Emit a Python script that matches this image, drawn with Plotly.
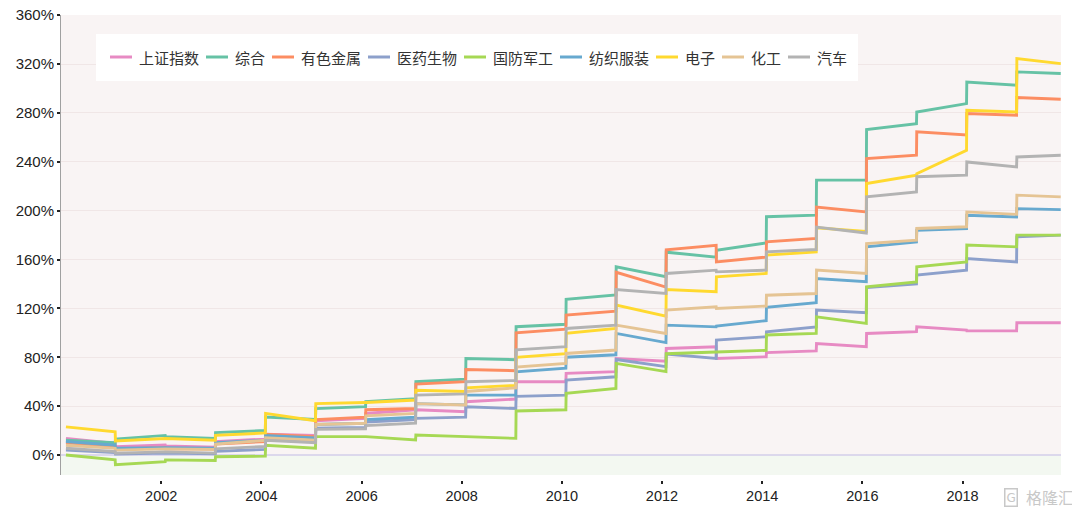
import datetime as dt
import plotly.graph_objects as go

years = list(range(2000, 2020))
series_names = ["上证指数", "综合", "有色金属", "医药生物", "国防军工", "纺织服装", "电子", "化工", "汽车"]
series_colors = ["#e78ac3", "#66c2a5", "#fc8d62", "#8da0cb", "#a6d854", "#67a9cf", "#ffd92f", "#e5c494", "#b3b3b3"]

# value at the start of each year (after the jump) and at its end (before the next jump), in %
shangzheng_start = [13.6, 6.8, 7.4, 11, 17, 28, 34, 37, 43.6, 60, 66.8, 79, 87.2, 79, 83.8, 91.3, 99.5, 105, 101.6, 108.2]
shangzheng_end   = [9.5, 8.2, 6.3, 13, 16, 30, 36.8, 35.4, 45.8, 60, 68.2, 76.8, 88.6, 80.4, 85.2, 88.6, 100.9, 102.2, 101.6, 108.2]
zonghe_start = [12, 13, 15, 18.3, 31, 38, 43.6, 60, 79, 105, 127.4, 154, 166, 167.6, 195, 225, 266.4, 280.8, 305.4, 313.6]
zonghe_end   = [10, 16, 13.6, 20, 29, 39.5, 46, 62, 78, 107, 131, 146, 162, 173.6, 196.3, 225, 271.3, 287.7, 302.7, 312.3]
youse_start = [10, 5, 5, 9, 17, 29, 37, 58, 70, 100, 114.5, 149.6, 168, 158, 174.5, 203, 242.7, 264.5, 279.5, 292.6]
youse_end   = [7, 6, 5, 11, 15, 31, 38, 60, 69, 103, 117.8, 137.4, 171.6, 162, 177.3, 199, 245.4, 262, 278.1, 291.2]
yiyao_start = [4, 0.8, 1.5, 3, 13, 22, 27, 30, 39.5, 48, 61.3, 78.2, 82.6, 94, 100.9, 118.6, 137, 147.2, 160.8, 178.6]
yiyao_end   = [2, 2, 1, 4.5, 11, 22.5, 29, 31, 38, 49, 64, 72.3, 79, 96.8, 104.9, 116.5, 140, 151.3, 158.1, 180]
guofang_start = [0, -8, -4, -1.5, 8, 15, 15, 16.4, 15, 36, 50.4, 75, 82.9, 84.3, 98.2, 113.1, 137.6, 154, 171.8, 180]
guofang_end   = [-4, -5.5, -4.5, -1, 5.5, 15, 12.3, 15, 13.6, 37, 54.5, 68.2, 84.3, 85.7, 99.5, 107.7, 141.7, 158.1, 170.4, 180]
fangzhi_start = [11, 5.5, 6, 10, 16, 25, 29, 42, 49, 68, 80, 99.5, 106.3, 105.6, 120.8, 144.5, 170.4, 184, 196.3, 201.7]
fangzhi_end   = [8, 6.5, 5.5, 12, 14, 26, 31, 41, 49, 71, 82, 92, 104.9, 110, 124.6, 141.8, 174.5, 185.4, 194.9, 200.9]
dianzi_start = [23, 11.5, 13.5, 16, 34, 42, 43, 53, 55, 80, 99.5, 122.7, 135.5, 145.9, 163.6, 186, 222.2, 230.2, 282.2, 324.5]
dianzi_end   = [19, 13, 12, 18, 28, 43, 45, 52, 57, 83, 103.6, 113.7, 133.6, 148.6, 166.3, 183, 229, 249.4, 280.8, 320.4]
huagong_start = [8, 4, 5, 9, 14, 25, 32, 42, 52, 72, 83.1, 106.3, 118.6, 120, 130.8, 151.3, 173.1, 185.4, 199, 212.7]
huagong_end   = [5.5, 5, 4.5, 12, 12, 26, 34, 41, 55, 75, 85.9, 99.5, 121.4, 121.9, 132.2, 148.6, 175.9, 186.8, 197, 211.3]
qiche_start = [5.5, 1.4, 2.5, 5, 12, 21, 24, 49, 60, 86, 103.6, 135.5, 148.6, 149.9, 166.3, 186.5, 211.3, 227.8, 239.9, 244]
qiche_end   = [2.7, 2.5, 1.5, 7, 10, 21.5, 26, 50, 61, 88.6, 106.3, 132.2, 151.3, 151.3, 168.2, 181.7, 215.4, 229.1, 235.8, 245.4]

x_tick_labels = ["2002", "2004", "2006", "2008", "2010", "2012", "2014", "2016", "2018"]
y_tick_values = [0, 40, 80, 120, 160, 200, 240, 280, 320, 360]

starts = [shangzheng_start, zonghe_start, youse_start, yiyao_start, guofang_start,
          fangzhi_start, dianzi_start, huagong_start, qiche_start]
ends = [shangzheng_end, zonghe_end, youse_end, yiyao_end, guofang_end,
        fangzhi_end, dianzi_end, huagong_end, qiche_end]


def seg_dates(y):
    s = dt.date(y, 2, 1) if y > years[0] else dt.date(y, 2, 6)
    e = dt.date(y + 1, 1, 30) if y < years[-1] else dt.date(y, 12, 18)
    return s, e


fig = go.Figure()
for name, color, s_vals, e_vals in zip(series_names, series_colors, starts, ends):
    xs, ys = [], []
    for y, sv, ev in zip(years, s_vals, e_vals):
        sd, ed = seg_dates(y)
        xs += [sd, ed]
        ys += [sv, ev]
    fig.add_trace(go.Scatter(x=xs, y=ys, mode="lines", name=name, showlegend=False,
                             line=dict(color=color, width=2.9), hoverinfo="skip"))

# page body offset (default 8px body margin) is compensated in the margins
OFF = 8
PL, PR, PT, PB = 61, 1061, 15, 480          # plot box in screen pixels (x axis sits at PB)
L, R, T, B = PL - OFF, 1080 - PR + OFF, PT - OFF, 517 - (PB - OFF)
PW = PR - PL
PH = PB - PT


def px(xs):
    return (xs - PL) / PW


def py(ys):
    return (PB - ys) / PH


shapes = []
# light green band below zero
shapes.append(dict(type="rect", xref="paper", yref="y", x0=0, x1=1, y0=-16.4, y1=0,
                   fillcolor="#f3f8f1", line=dict(width=0), layer="below"))
# legend box
shapes.append(dict(type="rect", xref="paper", yref="paper", x0=px(96), x1=px(858), y0=py(81), y1=py(34),
                   fillcolor="#ffffff", line=dict(width=0), layer="above"))
annotations = []
tx = 137
ly = 57
for name, color in zip(series_names, series_colors):
    shapes.append(dict(type="line", xref="paper", yref="paper", x0=px(tx - 27), x1=px(tx - 5),
                       y0=py(ly), y1=py(ly), line=dict(color=color, width=3), layer="above"))
    annotations.append(dict(xref="paper", yref="paper", x=px(tx), y=py(ly), text=name, showarrow=False,
                            xanchor="left", yanchor="middle",
                            font=dict(family="Noto Sans CJK SC", size=15, color="#333333")))
    tx += 15 * len(name) + 36

# watermark
annotations.append(dict(xref="paper", yref="paper", x=px(1011), y=py(497), text="G", showarrow=False,
                        xanchor="center", yanchor="middle",
                        font=dict(family="DejaVu Sans", size=12, color="#c8c8c8"),
                        bordercolor="#c8c8c8", borderwidth=1.5, borderpad=1))
annotations.append(dict(xref="paper", yref="paper", x=px(1024), y=py(497), text="格隆汇", showarrow=False,
                        xanchor="left", yanchor="middle",
                        font=dict(family="Noto Sans CJK SC", size=16, color="#c8c8c8")))

fig.update_layout(
    width=1080, height=517,
    margin=dict(l=L, r=R, t=T, b=B, autoexpand=False),
    paper_bgcolor="#ffffff",
    plot_bgcolor="#f9f4f4",
    shapes=shapes,
    annotations=annotations,
    xaxis=dict(
        type="date",
        range=[dt.date(2000, 1, 1), dt.date(2019, 12, 20)],
        tickvals=[dt.date(int(t), 1, 1) for t in x_tick_labels],
        ticktext=x_tick_labels,
        ticks="outside", ticklen=3, tickwidth=2, tickcolor="#222222",
        showgrid=False, showline=False, zeroline=False,
        anchor="free", position=0, automargin=False,
        tickfont=dict(family="Liberation Sans", size=14.5, color="#222222"),
    ),
    yaxis=dict(
        domain=[(PB - 475) / PH, 1],
        range=[-16.4, 360.2],
        tickvals=y_tick_values,
        ticktext=[f"{v}%" for v in y_tick_values],
        ticks="outside", ticklen=3, tickwidth=2, tickcolor="#222222",
        showline=True, linecolor="#a0a0a0", linewidth=1,
        showgrid=True, gridcolor="#f0e6e6", gridwidth=1,
        zeroline=True, zerolinecolor="#dcd8ec", zerolinewidth=2,
        automargin=False, ticklabeloverflow="allow",
        tickfont=dict(family="Liberation Sans", size=15, color="#222222"),
    ),
)

fig.write_html("out.html")
